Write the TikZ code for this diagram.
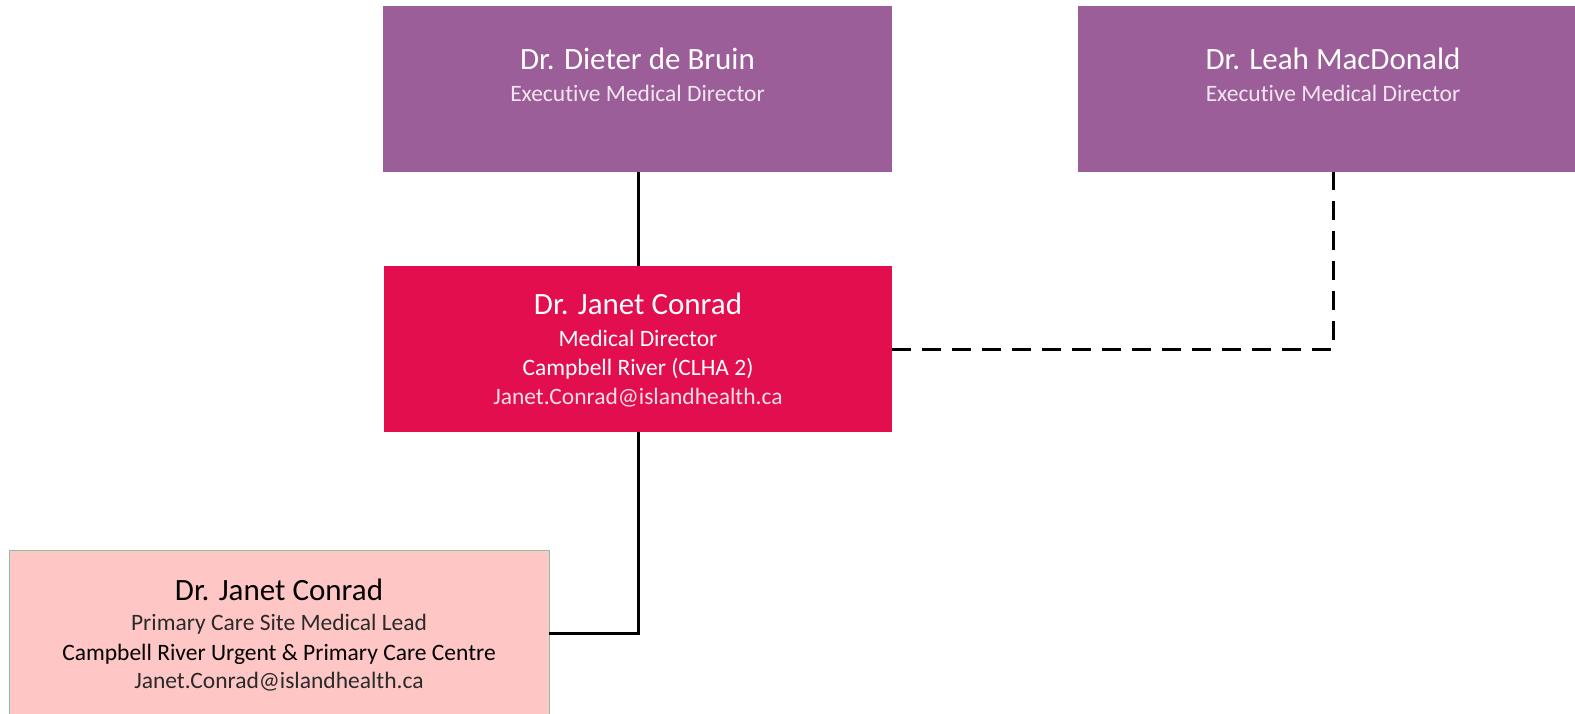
\documentclass[tikz,border=0pt]{standalone}
\usepackage{fontspec}
\setmainfont{Carlito}[Ligatures={NoCommon}]
\definecolor{execpurple}{HTML}{9C5E98}
\definecolor{mdred}{HTML}{E20E4E}
\definecolor{leadpink}{HTML}{FFC6C6}
\definecolor{leadborder}{HTML}{86C29A}
\definecolor{lightwhite}{HTML}{F3E6F1}
\definecolor{lightwhitered}{HTML}{FBE0E7}
\definecolor{darkgray}{HTML}{2A2A2A}
\tikzset{
  box/.style={rectangle, inner sep=0pt, outer sep=0pt, minimum width=#1, minimum height=166pt},
  titletext/.style={anchor=base, inner sep=0pt, font=\fontsize{31}{36}\selectfont},
  subtext/.style={anchor=base, inner sep=0pt, font=\fontsize{23.5}{28}\selectfont},
  conn/.style={line width=3pt, black},
  dashconn/.style={line width=3pt, black, dash pattern=on 19pt off 11pt}
}
\begin{document}
\begin{tikzpicture}[x=1pt,y=1pt]
\useasboundingbox (0,0) rectangle (1575,-714);
\clip (0,0) rectangle (1575,-714);
% boxes
\node[box=509pt, fill=execpurple] (A) at (637.5,-89.5) {};
\node[box=510pt, fill=execpurple] (B) at (1333,-89.5) {};
\node[box=508pt, fill=mdred] (C) at (638,-349) {};
\node[box=540pt, fill=leadpink, draw=leadborder, line width=1pt] (D) at (279,-633) {};
% connectors
\draw[conn] (A.south -| C.north) -- (C.north);
\draw[conn] (C.south) |- (D.east);
\draw[dashconn] (C.east) -| (B.south);
% texts
\node[titletext, white] (At) at (637.5,-70) {Dr. Dieter de Bruin};
\node[subtext, lightwhite] (As) at (637.5,-101.6) {Executive Medical Director};
\node[titletext, white] (Bt) at (1333,-70) {Dr. Leah MacDonald};
\node[subtext, lightwhite] (Bs) at (1333,-101.6) {Executive Medical Director};
\node[titletext, white] (Ct) at (638,-314) {Dr. Janet Conrad};
\node[subtext, white] (Cs1) at (638,-346) {Medical Director};
\node[subtext, white] (Cs2) at (638,-375) {Campbell River (CLHA 2)};
\node[subtext, lightwhitered] (Cs3) at (638,-404) {Janet.Conrad@islandhealth.ca};
\node[titletext, black] (Dt) at (279,-600) {Dr. Janet Conrad};
\node[subtext, darkgray] (Ds1) at (279,-630) {Primary Care Site Medical Lead};
\node[subtext, black] (Ds2) at (279,-660.5) {Campbell River Urgent \& Primary Care Centre};
\node[subtext, darkgray] (Ds3) at (279,-688.6) {Janet.Conrad@islandhealth.ca};
\end{tikzpicture}
\end{document}
